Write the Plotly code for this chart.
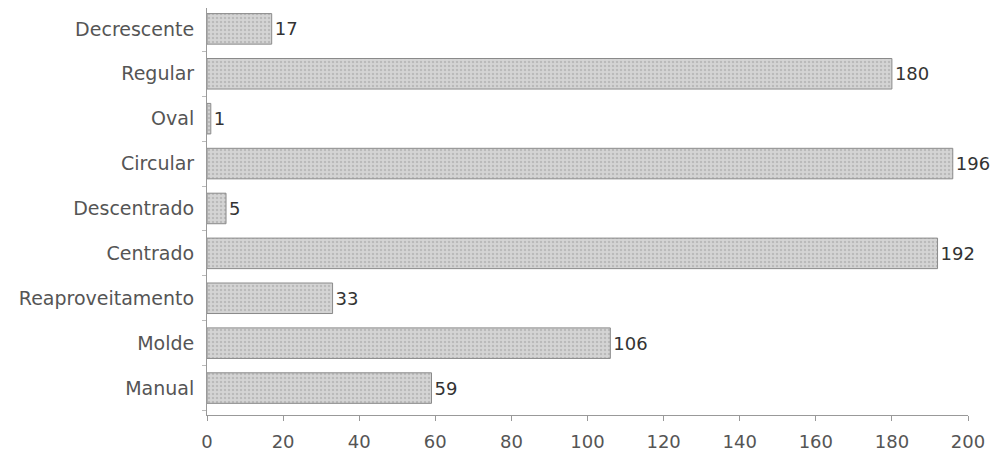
import plotly.graph_objects as go

categories = ["Decrescente", "Regular", "Oval", "Circular", "Descentrado",
              "Centrado", "Reaproveitamento", "Molde", "Manual"]
values = [17, 180, 1, 196, 5, 192, 33, 106, 59]
x_ticks = [0, 20, 40, 60, 80, 100, 120, 140, 160, 180, 200]

fig = go.Figure(go.Bar(
    x=values, y=categories, orientation="h",
    marker=dict(color="#d4d4d4", line=dict(color="#8a8a8a", width=1),
                pattern=dict(shape=".", fgcolor="#a0a0a0", size=4, solidity=0.3)),
    text=[str(v) for v in values], textposition="outside",
    textfont=dict(family="DejaVu Sans", size=18, color="#333"),
    cliponaxis=False,
))

fig.update_layout(
    width=992, height=449,
    margin=dict(l=199, r=32, t=0, b=42),
    plot_bgcolor="white", paper_bgcolor="white",
    bargap=0.32, showlegend=False,
    font=dict(family="DejaVu Sans", size=19, color="#555"),
)
fig.update_xaxes(range=[0, 200], tickvals=x_ticks, showgrid=False, zeroline=False,
                 showline=True, linecolor="#999", ticks="outside", ticklen=5,
                 tickcolor="#999", ticklabelstandoff=5,
                 tickfont=dict(size=18, color="#555"))
fig.update_yaxes(categoryorder="array", categoryarray=categories[::-1],
                 range=[-0.6, 8.465], showgrid=False, showline=True, linecolor="#999",
                 ticks="outside", ticklen=4, tickcolor="#bbb", tickson="boundaries",
                 ticklabelstandoff=8,
                 tickfont=dict(size=19, color="#555"))

fig.write_html("out.html")
